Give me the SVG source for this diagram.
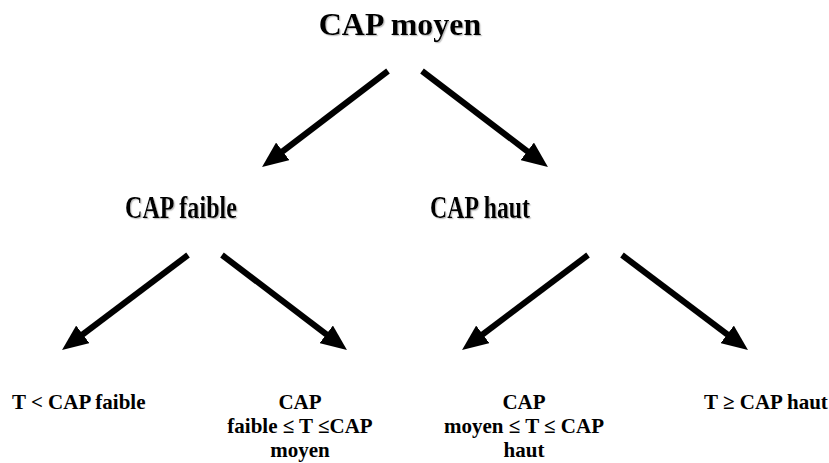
<svg xmlns="http://www.w3.org/2000/svg" width="829" height="463" viewBox="0 0 829 463">
<style>
  .h { font-weight: bold; font-size: 32px; fill: #000; text-anchor: middle; }
  .l { font-weight: bold; font-size: 21px; fill: #000; }
  .c { text-anchor: middle; }
  .arrow { stroke: #000; stroke-width: 6; fill: none; marker-end: url(#head); }
</style>
<defs>
  <marker id="head" viewBox="0 0 26 22" refX="16" refY="11" markerWidth="26" markerHeight="22" markerUnits="userSpaceOnUse" orient="auto">
    <path d="M0,0 L26,11 L0,22 z" fill="#000"/>
  </marker>
  <filter id="shadow" x="-10%" y="-20%" width="130%" height="160%">
    <feDropShadow dx="1.2" dy="1.2" stdDeviation="0.6" flood-color="#999" flood-opacity="0.6"/>
  </filter>
</defs>
<rect width="829" height="463" fill="#fff"/>
<g id="connectors">
  <line class="arrow" x1="388" y1="71" x2="270" y2="161"/>
  <line class="arrow" x1="422" y1="71" x2="540" y2="161"/>
  <line class="arrow" x1="188" y1="255" x2="70" y2="344"/>
  <line class="arrow" x1="222" y1="255" x2="339" y2="344"/>
  <line class="arrow" x1="588" y1="255" x2="470" y2="344"/>
  <line class="arrow" x1="622" y1="255" x2="740" y2="344"/>
</g>
<g font-family="'Liberation Serif', 'DejaVu Serif', serif">
<g id="cap-moyen">
  <text class="h" x="400" y="35" filter="url(#shadow)">CAP moyen</text>
</g>
<g id="cap-faible">
  <text class="h" x="181" y="218" textLength="112" lengthAdjust="spacingAndGlyphs" filter="url(#shadow)">CAP faible</text>
</g>
<g id="cap-haut">
  <text class="h" x="480" y="218" textLength="100" lengthAdjust="spacingAndGlyphs" filter="url(#shadow)">CAP haut</text>
</g>
<g id="leaf-1">
  <text class="l" x="12" y="409">T &lt; CAP faible</text>
</g>
<g id="leaf-2">
  <text class="l c" x="300" y="409">CAP</text>
  <text class="l c" x="300" y="433">faible ≤ T ≤CAP</text>
  <text class="l c" x="300" y="457">moyen</text>
</g>
<g id="leaf-3">
  <text class="l c" x="524" y="409">CAP</text>
  <text class="l c" x="524" y="433">moyen ≤ T ≤ CAP</text>
  <text class="l c" x="524" y="457">haut</text>
</g>
<g id="leaf-4">
  <text class="l c" x="766" y="409">T ≥ CAP haut</text>
</g>
</g>
</svg>
